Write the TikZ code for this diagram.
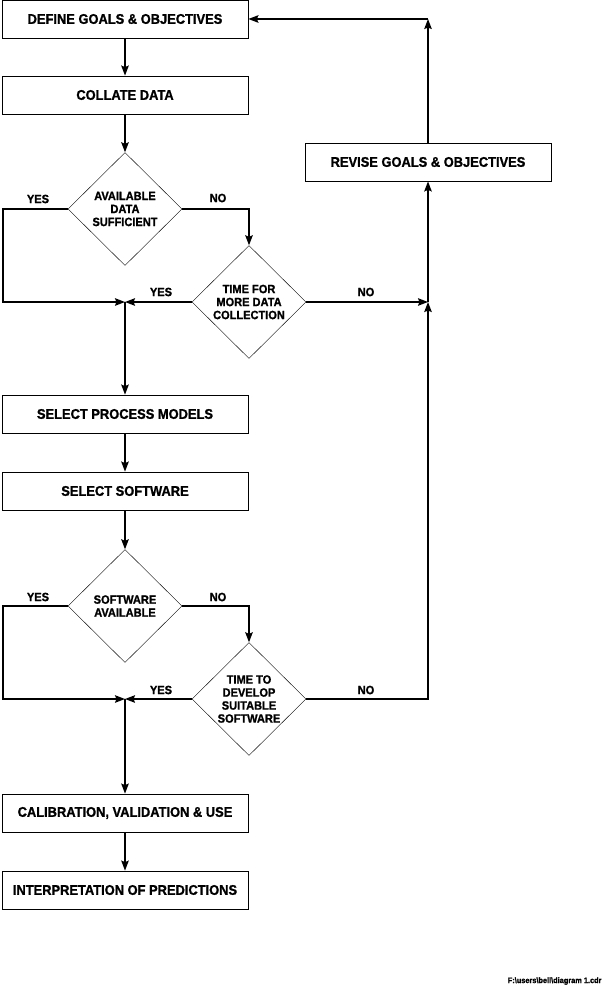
\documentclass[tikz,border=0pt]{standalone}
\usepackage{fontspec}
\newfontfamily\chartfont[FakeStretch=0.92,FakeBold=1.2]{Liberation Sans}
\usetikzlibrary{shapes.geometric,arrows.meta}
\begin{document}
\begin{tikzpicture}[x=1pt,y=-1pt,
		box/.style={draw,line width=0.8pt,minimum width=246pt,minimum height=38pt,inner sep=0pt,font=\chartfont\bfseries\fontsize{14}{15}\selectfont},
		test/.style={draw,diamond,line width=0.4pt,minimum width=114pt,minimum height=113pt,inner sep=0pt,align=center,font=\chartfont\bfseries\fontsize{12}{13}\selectfont},
		lab/.style={font=\chartfont\bfseries\fontsize{12}{13}\selectfont},
		arr/.style={line width=1.5pt,-{Stealth[length=10pt,width=7.5pt,inset=1.5pt]}}]
		\useasboundingbox (0,0) rectangle (606,990);
		
		\node[box] (define) at (125,19) {DEFINE GOALS \& OBJECTIVES};
		\node[box] (collate) at (125,95) {COLLATE DATA};
		\node[test] (avail) at (125,209) {AVAILABLE\\DATA\\SUFFICIENT};
		\node[test] (moredata) at (249,302) {TIME FOR\\MORE DATA\\COLLECTION};
		\node[box] (models) at (125,414) {SELECT PROCESS MODELS};
		\node[box] (software) at (125,491) {SELECT SOFTWARE};
		\node[test] (swavail) at (125,606) {SOFTWARE\\AVAILABLE};
		\node[test] (develop) at (249,699) {TIME TO\\DEVELOP\\SUITABLE\\SOFTWARE};
		\node[box] (calib) at (125,813) {CALIBRATION, VALIDATION \& USE};
		\node[box] (interp) at (125,890) {INTERPRETATION OF PREDICTIONS};
		\node[box] (revise) at (428,162) {REVISE GOALS \& OBJECTIVES};
		
		\coordinate (j1) at (125,302);
		\coordinate (j2) at (125,699);
		\coordinate (l1) at (3,302);
		\coordinate (l2) at (3,699);
		\coordinate (r1) at (428,302);
		\coordinate (r2) at (428,699);
		\coordinate (top) at (428,19);
		
		\node[lab] (yes1) at (38,199) {YES};
		\node[lab] (no1) at (218,198) {NO};
		\node[lab] (yes2) at (161,292) {YES};
		\node[lab] (no2) at (366,292) {NO};
		\node[lab] (yes3) at (38,597) {YES};
		\node[lab] (no3) at (218,597) {NO};
		\node[lab] (yes4) at (161,690) {YES};
		\node[lab] (no4) at (366,690) {NO};
		
		\draw[arr] (define) -- (collate);
		\draw[arr] (collate) -- (avail);
		\draw[arr] (avail.west) -| (l1) -- (j1);
		\draw[arr] (avail.east) -| (moredata.north);
		\draw[arr] (moredata.west) -- (j1);
		\draw[arr] (j1) -- (models);
		\draw[arr] (moredata.east) -- (r1);
		\draw[arr] (r1) -- (revise);
		\draw[arr] (revise) -- (top);
		\draw[arr] (top) -- (define.east);
		
		\draw[arr] (models) -- (software);
		\draw[arr] (software) -- (swavail);
		\draw[arr] (swavail.west) -| (l2) -- (j2);
		\draw[arr] (swavail.east) -| (develop.north);
		\draw[arr] (develop.west) -- (j2);
		\draw[arr] (j2) -- (calib);
		\draw[arr] (develop.east) -- (r2) -- (r1);
		\draw[arr] (calib) -- (interp);
		
		\node[anchor=east,font=\chartfont\bfseries\fontsize{8}{9}\selectfont] (file) at (605,981) {F:\textbackslash users\textbackslash bell\textbackslash diagram 1.cdr};
\end{tikzpicture}
\end{document}
